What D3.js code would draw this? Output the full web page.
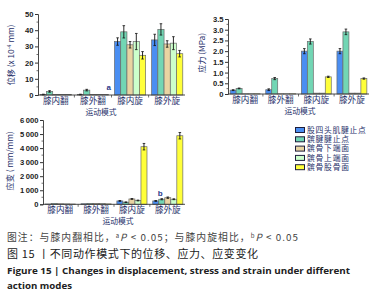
<!DOCTYPE html>
<html><head><meta charset="utf-8">
<script src="https://cdn.jsdelivr.net/npm/d3@7"></script>
<style>
body{margin:0;background:#fff;}
svg{display:block;}
</style></head>
<body>
<svg id="c" width="384" height="297"></svg>
<script>
const categories = ["膝内翻","膝外翻","膝内旋","膝外旋"];
const seriesNames = ["股四头肌腱止点","髌腱腱止点","髌骨下端面","髌骨上端面","髌骨股骨面"];
const seriesColors = ["#4a8ef2","#72d6b4","#e9d4a2","#ccffcc","#ffff3a"];

// displacement (x10^-4 mm) [series][category]
const dispValues = [
  [0.3, 0.3, 33, 34],
  [2.2, 3.0, 39, 40.5],
  [0.3, 0.3, 31, 31.5],
  [0.3, 0.3, 33, 32],
  [0.3, 0.3, 24.5, 25.5]
];
const dispErr = [
  [0.2, 0.2, 2.3, 3.5],
  [0.5, 0.5, 3.8, 3.5],
  [0, 0, 2, 2],
  [0, 0, 5, 4],
  [0, 0, 2.3, 2]
];
const dispTicks = [0,10,20,30,40,50];

// stress (MPa)
const stressValues = [
  [0.18, 0.20, 2.00, 2.00],
  [0.26, 0.72, 2.45, 2.90],
  [0.01, 0.01, 0.04, 0.04],
  [0.01, 0.01, 0.04, 0.04],
  [0.01, 0.01, 0.80, 0.72]
];
const stressErr = [
  [0.02, 0.04, 0.12, 0.12],
  [0.02, 0.05, 0.12, 0.13],
  [0, 0, 0, 0],
  [0, 0, 0, 0],
  [0, 0, 0.03, 0.03]
];
const stressTicks = [0,0.5,1.0,1.5,2.0,2.5,3.0,3.5];

// strain (mm/mm)
const strainValues = [
  [20, 40, 240, 240],
  [60, 60, 150, 360],
  [40, 60, 380, 470],
  [30, 50, 270, 360],
  [20, 30, 4100, 4880]
];
const strainErr = [
  [0, 0, 30, 30],
  [0, 0, 20, 40],
  [0, 0, 30, 50],
  [0, 0, 30, 30],
  [0, 0, 230, 230]
];
const strainTicks = [0,1000,2000,3000,4000,5000,6000];

const svg = d3.select("#c");
const navy = "#27306a";
const cjk = "'Noto Sans CJK SC', sans-serif";
const num = "'Liberation Sans', Arial, sans-serif";

function panel(o){
  const g = svg.append("g");
  const x0 = d3.scaleBand().domain(categories).range([o.x0, o.x1]).paddingInner(0.16).paddingOuter(0.06);
  const x1 = d3.scaleBand().domain(d3.range(seriesNames.length)).range([0, x0.bandwidth()]);
  const y = d3.scaleLinear().domain([0, o.max]).range([o.yb, o.yt]);

  seriesNames.forEach((s, si) => {
    categories.forEach((c, ci) => {
      const v = o.values[si][ci];
      const e = o.err[si][ci];
      const bx = x0(c) + x1(si);
      g.append("rect")
        .attr("x", bx).attr("width", x1.bandwidth())
        .attr("y", y(v)).attr("height", y(0) - y(v))
        .attr("fill", seriesColors[si])
        .attr("stroke", "#6b6b6b").attr("stroke-width", 0.7);
      if (e > 0) {
        const cx = bx + x1.bandwidth()/2;
        g.append("line").attr("x1", cx).attr("x2", cx)
          .attr("y1", y(v+e)).attr("y2", y(v-e))
          .attr("stroke", "#111").attr("stroke-width", 0.9);
        [v+e, v-e].forEach(t => g.append("line")
          .attr("x1", cx-1.3).attr("x2", cx+1.3).attr("y1", y(t)).attr("y2", y(t))
          .attr("stroke", "#111").attr("stroke-width", 0.8));
      }
    });
  });

  const ya = d3.axisLeft(y).tickValues(o.ticks).tickSize(3).tickPadding(1.5).tickFormat(o.fmt);
  const yg = g.append("g").attr("transform", `translate(${o.x0},0)`).call(ya);
  yg.select(".domain").attr("stroke", "#333").attr("stroke-width", 0.9);
  yg.selectAll(".tick line").attr("stroke", "#333");
  yg.selectAll("text").attr("font-family", num).attr("font-size", 7.6)
    .attr("font-weight", "bold").attr("fill", "#222");
  const minors = [];
  for (let i = 0; i < o.ticks.length - 1; i++) minors.push((o.ticks[i] + o.ticks[i+1]) / 2);
  g.selectAll(null).data(minors).enter().append("line")
    .attr("x1", o.x0 - 1.5).attr("x2", o.x0).attr("y1", d => y(d)).attr("y2", d => y(d))
    .attr("stroke", "#333").attr("stroke-width", 0.7);

  g.append("line").attr("x1", o.x0).attr("x2", o.x1).attr("y1", y(0)).attr("y2", y(0))
    .attr("stroke", "#333").attr("stroke-width", 0.9);
  const step = x0.step();
  const bounds = categories.slice(1).map(c => x0(c) - step * x0.paddingInner() / 2);
  g.selectAll(null).data(bounds).enter().append("line")
    .attr("x1", d => d).attr("x2", d => d).attr("y1", y(0)).attr("y2", y(0) + 2.5)
    .attr("stroke", "#333").attr("stroke-width", 0.7);
  g.selectAll(null).data(categories).enter().append("text")
    .attr("x", d => x0(d) + x0.bandwidth()/2).attr("y", y(0) + 8.8)
    .attr("text-anchor", "middle").attr("font-family", cjk).attr("font-size", 8.6)
    .attr("fill", navy).text(d => d);

  const yt = g.append("text")
    .attr("transform", `translate(${o.titleX},${o.titleY}) rotate(-90)`)
    .attr("text-anchor", "middle").attr("font-family", cjk).attr("font-size", 8.2)
    .attr("fill", navy);
  o.title(yt);

  g.append("text").attr("x", o.xtX).attr("y", o.xtY).attr("text-anchor", "middle")
    .attr("font-family", cjk).attr("font-size", 7.8).attr("fill", navy).text("运动模式");
  return {x0, x1, y, g};
}

const p1 = panel({
  x0: 38, x1: 185, yb: 95, yt: 14, max: 50, ticks: dispTicks, fmt: d3.format("d"),
  values: dispValues, err: dispErr, titleX: 14, titleY: 55,
  title: t => { t.append("tspan").text("位移 (x 10");
                t.append("tspan").attr("dy", -3).attr("font-size", 5.5).text("-4");
                t.append("tspan").attr("dy", 3).text(" mm)"); },
  xtX: 101, xtY: 114.5
});
p1.g.append("text").attr("x", p1.x0("膝外翻") + p1.x0.bandwidth() - 2).attr("y", 90)
  .attr("font-family", num).attr("font-weight", "bold").attr("font-size", 8)
  .attr("fill", "#2a3a8a").text("a");

const p2 = panel({
  x0: 228, x1: 369, yb: 94, yt: 19, max: 3.5, ticks: stressTicks, fmt: d => d === 0 ? "0" : d3.format(".1f")(d),
  values: stressValues, err: stressErr, titleX: 205, titleY: 53,
  title: t => t.text("应力 (MPa)"),
  xtX: 300, xtY: 114
});

const p3 = panel({
  x0: 43, x1: 185, yb: 204.3, yt: 120, max: 6000, ticks: strainTicks,
  fmt: d => d === 0 ? "0" : d3.format(",")(d).replace(",", "\u2009"),
  values: strainValues, err: strainErr, titleX: 13, titleY: 161,
  title: t => t.text("应变 ( mm/mm)"),
  xtX: 118, xtY: 224
});
p3.g.append("text").attr("x", p3.x0("膝外旋") + p3.x1(1) - 1).attr("y", 196)
  .attr("font-family", num).attr("font-weight", "bold").attr("font-size", 8)
  .attr("fill", "#2a3a8a").text("b");

const lg = svg.append("g");
seriesNames.forEach((s, i) => {
  const yy = 127.5 + i * 9.3;
  lg.append("rect").attr("x", 295.5).attr("y", yy).attr("width", 9).attr("height", 5)
    .attr("fill", seriesColors[i]).attr("stroke", "#1e1e3c").attr("stroke-width", 1);
  lg.append("text").attr("x", 307).attr("y", yy + 5.3).attr("font-family", cjk)
    .attr("font-size", 7.8).attr("fill", navy)
    .attr("textLength", s.length * 8.4).attr("lengthAdjust", "spacing").text(s);
});

const cap = svg.append("g");
const c1 = cap.append("text").attr("x", 7).attr("y", 241).attr("font-family", cjk)
  .attr("font-size", 9.8).attr("fill", "#444")
  .attr("textLength", 291).attr("lengthAdjust", "spacing");
c1.append("tspan").text("图注：与膝内翻相比，");
c1.append("tspan").attr("dy", -3).attr("font-size", 6).text("a");
c1.append("tspan").attr("dy", 3).attr("font-style", "italic").text("P");
c1.append("tspan").text(" < 0.05；与膝内旋相比，");
c1.append("tspan").attr("dy", -3).attr("font-size", 6).text("b");
c1.append("tspan").attr("dy", 3).attr("font-style", "italic").text("P");
c1.append("tspan").text(" < 0.05");

cap.append("text").attr("x", 7).attr("y", 258).attr("font-family", cjk)
  .attr("font-size", 11).attr("fill", "#222")
  .attr("textLength", 251).attr("lengthAdjust", "spacing")
  .text("图 15 丨不同动作模式下的位移、应力、应变变化");
cap.append("text").attr("x", 7).attr("y", 274).attr("font-family", "'Open Sans', sans-serif")
  .attr("font-weight", "bold").attr("font-size", 9.2).attr("fill", "#222")
  .attr("textLength", 343).attr("lengthAdjust", "spacingAndGlyphs")
  .text("Figure 15  |  Changes in displacement, stress and strain under different");
cap.append("text").attr("x", 7).attr("y", 289).attr("font-family", "'Open Sans', sans-serif")
  .attr("font-weight", "bold").attr("font-size", 9.2).attr("fill", "#222")
  .attr("textLength", 65).attr("lengthAdjust", "spacingAndGlyphs")
  .text("action modes");
</script>
</body></html>
